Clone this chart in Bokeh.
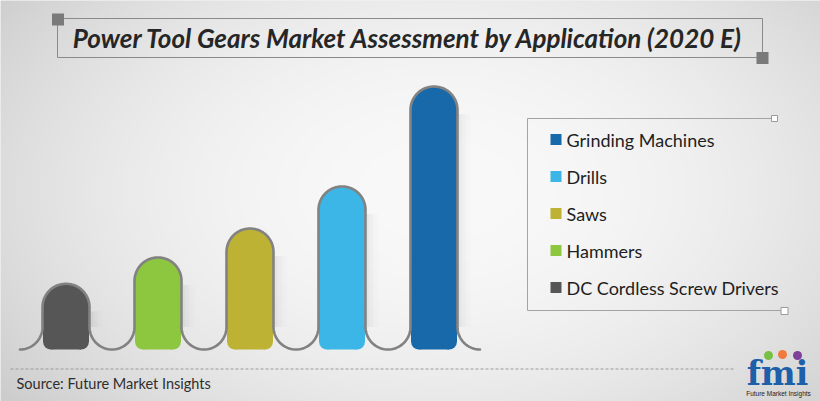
import numpy as np
from bokeh.plotting import figure
from bokeh.models import Range1d
from bokeh.core.properties import value
from bokeh.embed import file_html
from bokeh.resources import INLINE

# ---------------- data ----------------
title_text = "Power Tool Gears Market Assessment by Application (2020 E)"
source_text = "Source: Future Market Insights"
categories = ["DC Cordless Screw Drivers", "Hammers", "Saws", "Drills", "Grinding Machines"]
values = [25, 35, 46, 62, 100]
colors = ["#565656", "#8dc63f", "#bdb233", "#3bb6e6", "#1769aa"]
legend_order = ["Grinding Machines", "Drills", "Saws", "Hammers", "DC Cordless Screw Drivers"]

# ---------------- layout ----------------
W, H = 820, 401
def X(ref):  # window px -> plot coords
    return ref
def Y(ref):  # window px (from top) -> plot coords (y up)
    return H - ref

PX_CAT = 92.0      # px per category step
X0 = X(65.5)       # px of first bar centre
PX_VAL = 2.63      # px per value unit
BASE = Y(349)      # px (from bottom) of value 0

p = figure(width=W, height=H, output_backend="svg", toolbar_location=None,
           x_range=Range1d(0, W), y_range=Range1d(0, H),
           x_axis_location=None, y_axis_location=None,
           min_border=0, outline_line_color=None,
           background_fill_color="#e4e4e4", border_fill_color="#e4e4e4")
p.grid.visible = False
p.extra_x_ranges = {"cat": Range1d(-X0 / PX_CAT, (W - X0) / PX_CAT)}
p.extra_y_ranges = {"val": Range1d(-BASE / PX_VAL, (H - BASE) / PX_VAL)}

# background radial gradient (style)
gw, gh = 410, 201
GX, GY = np.meshgrid(np.linspace(0, W, gw), np.linspace(0, H, gh))
cx, cy = X(440), Y(190)
d2 = ((GX - cx) / 520.0) ** 2 + ((GY - cy) / 330.0) ** 2
lum = np.clip(249 - 40 * d2, 196, 250).astype(np.uint8)
img = np.empty((gh, gw), dtype=np.uint32)
view = img.view(dtype=np.uint8).reshape((gh, gw, 4))
view[..., 0] = lum
view[..., 1] = lum
view[..., 2] = lum
view[..., 3] = 255
p.image_rgba(image=[img], x=0, y=0, dw=W, dh=H)

# ---------------- bars ----------------
idx = np.arange(len(categories), dtype=float)
vals = np.array(values, dtype=float)
ux = 1.0 / PX_CAT
uy = 1.0 / PX_VAL
HW = 23.5          # outline half width (px)
RU = PX_CAT / 2 - HW  # radius of U curves between bars (px)
RB = 8.0           # bottom corner radius of fills (px)

kw = dict(x_range_name="cat", y_range_name="val")

# soft shadows on the right of each bar
for w, a in [(3, 0.025), (7, 0.018), (12, 0.012)]:
    p.vbar(x=idx + (HW + 1 + w / 2.0) * ux, width=w * ux, bottom=RU * uy,
           top=vals - HW * uy - 4 * uy, fill_color="#000000", fill_alpha=a,
           line_color=None, **kw)

p.vbar(x=idx, width=46 * ux, bottom=RB * uy, top=vals - HW * uy,
       fill_color=colors, line_color=None, **kw)
p.vbar(x=idx, width=(46 - 2 * RB) * ux, bottom=0, top=RB * uy + 0.2,
       fill_color=colors, line_color=None, **kw)
p.circle(x=idx, y=vals - HW * uy, radius=23 * ux, fill_color=colors, line_color=None, **kw)
for s in (-1, 1):
    p.circle(x=idx + s * (23 - RB) * ux, y=np.full(len(idx), RB * uy), radius=RB,
             radius_units="screen", fill_color=colors, line_color=None, **kw)

# outline path following the bars
def arc(cxp, cyp, r, a0, a1, n=30):
    t = np.radians(np.linspace(a0, a1, n))
    return cxp + r * np.cos(t), cyp + r * np.sin(t)

xs, ys = [], []
c_px = idx * PX_CAT
v_px = vals * PX_VAL
ax, ay = arc(c_px[0] - PX_CAT / 2, RU, RU, -90, 0)
xs += list(ax); ys += list(ay)
for i in range(len(idx)):
    c = c_px[i]
    yc = v_px[i] - HW
    ax, ay = arc(c, yc, HW, 180, 0, 40)
    xs += list(ax); ys += list(ay)
    end = 270 if i == len(idx) - 1 else 360
    ax, ay = arc(c + PX_CAT / 2, RU, RU, 180, end)
    xs += list(ax); ys += list(ay)
p.line(x=np.array(xs) * ux, y=np.array(ys) * uy, line_color="#828282",
       line_width=2.6, line_join="round", line_cap="round", **kw)

# ---------------- title box ----------------
p.quad(left=[X(57)], right=[X(762)], top=[Y(18)], bottom=[Y(57)],
       fill_alpha=0, line_color="#8a8a8a", line_width=1)
p.rect(x=[X(57.5), X(762)], y=[Y(19), Y(57.5)], width=12, height=12,
       fill_color="#7a7a7a", line_color=None)
p.text(x=[X(408)], y=[Y(37)], text=[title_text], text_font=value("Lato"),
       text_font_style="bold italic", text_font_size="26px", text_color="#262626",
       text_align="center", text_baseline="middle")

# ---------------- legend ----------------
p.multi_line(xs=[[X(527), X(527)], [X(527), X(774)], [X(527), X(784)]],
             ys=[[Y(118), Y(310)], [Y(118), Y(118)], [Y(310), Y(310)]],
             line_color="#a3a3a3", line_width=1)
p.rect(x=[X(774), X(784)], y=[Y(118), Y(310.5)], width=[6, 7], height=[6, 7],
       fill_color="#ffffff", line_color="#9a9a9a", line_width=1)
leg_colors = [colors[categories.index(c)] for c in legend_order]
row_y = [Y(139 + 37 * k) for k in range(len(legend_order))]
p.rect(x=[X(555.5)] * len(legend_order), y=row_y, width=11, height=11,
       fill_color=leg_colors, line_color=None)
p.text(x=[X(566)] * len(legend_order), y=row_y, text=legend_order,
       text_font=value("Lato"), text_font_size="18px", text_color="#1e1e1e",
       text_align="left", text_baseline="middle")

# ---------------- source ----------------
p.line(x=[X(10), X(733)], y=[Y(368.5), Y(368.5)], line_color="#9a9a9a",
       line_width=1, line_dash="3 2")
p.text(x=[X(16)], y=[Y(383)], text=[source_text], text_font=value("Lato"),
       text_font_size="14.5px", text_color="#2e2e2e", text_align="left",
       text_baseline="middle")

# ---------------- fmi logo ----------------
p.text(x=[X(777)], y=[Y(373)], text=["fmi"], text_font=value("DejaVu Serif"),
       text_font_style="bold", text_font_size="33px", text_color="#1d5fa8",
       text_align="center", text_baseline="middle")
p.circle(x=[X(768), X(782), X(797)], y=[Y(355), Y(354), Y(355)], radius=4.5,
         radius_units="screen", fill_color=["#78c043", "#f07b3c", "#7d3f98"],
         line_color=None)
p.text(x=[X(778)], y=[Y(393)], text=["Future Market Insights"],
       text_font=value("Liberation Sans"), text_font_size="6.5px", text_color="#222222",
       text_align="center", text_baseline="middle")

open("out.html", "w").write(file_html(p, INLINE))
